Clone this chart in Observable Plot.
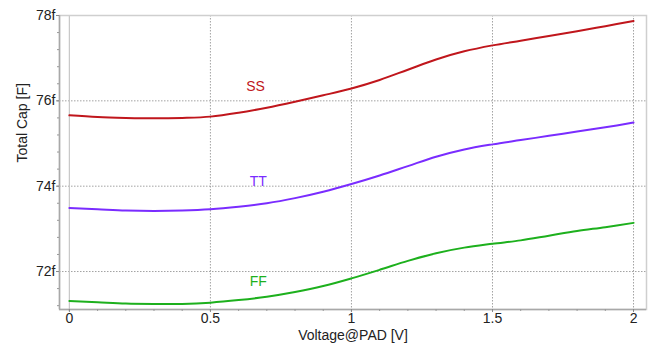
<!DOCTYPE html>
<html><head><meta charset="utf-8">
<script src="https://cdn.jsdelivr.net/npm/d3@7"></script>
<script src="https://cdn.jsdelivr.net/npm/@observablehq/plot@0.6"></script>
<style>body{margin:0;background:#fff;}</style>
</head><body><div id="chart"></div>
<script>
const voltage = [0,0.1,0.2,0.3,0.4,0.5,0.6,0.7,0.8,0.9,1.0,1.1,1.2,1.3,1.4,1.5,1.6,1.7,1.8,1.9,2.0];
const ss = [75.66,75.62,75.60,75.59,75.60,75.63,75.72,75.84,75.98,76.13,76.29,76.49,76.73,76.97,77.16,77.30,77.41,77.52,77.63,77.75,77.87];
const tt = [73.49,73.46,73.43,73.42,73.43,73.46,73.52,73.60,73.72,73.87,74.05,74.25,74.47,74.69,74.86,74.98,75.08,75.18,75.28,75.38,75.49];
const ff = [71.31,71.28,71.25,71.24,71.24,71.27,71.33,71.41,71.52,71.66,71.84,72.04,72.25,72.43,72.56,72.65,72.73,72.84,72.95,73.04,73.14];
const seriesNames = ["SS","TT","FF"];
const seriesColors = ["#c0161c","#7a2cff","#1db01d"];
const labelX = [0.66,0.67,0.67];
const labelY = [76.33,74.11,71.76];
const xTicks = [0,0.5,1,1.5,2];
const yTicks = [72,74,76,78];
const xMinor = d3.range(0,21).map(i=>i/10);
const yMinor = d3.range(0,18).map(i=>71.2+i*0.4);
const xTitle = "Voltage@PAD [V]";
const yTitle = "Total Cap [F]";
const xDomain = [-0.035,2.046];
const yDomain = [71.11,78];

const values = [ss,tt,ff];
const rows = [];
seriesNames.forEach((s,i)=>voltage.forEach((v,j)=>rows.push({v, c: values[i][j], s})));
const labels = seriesNames.map((s,i)=>({s, x: labelX[i], y: labelY[i]}));

const chart = Plot.plot({
  width: 652, height: 345,
  marginLeft: 59, marginRight: 6, marginTop: 15, marginBottom: 36,
  style: {fontFamily: "'Liberation Sans', Arial, sans-serif", fontSize: "14px", color: "#222", background: "#fff"},
  x: {domain: xDomain},
  y: {domain: yDomain},
  color: {domain: seriesNames, range: seriesColors},
  marks: [
    Plot.gridX(xTicks.filter(d=>d>0), {stroke:"#999", strokeOpacity:0.9, strokeDasharray:"1.5,1.5"}),
    Plot.gridY(yTicks.filter(d=>d<78), {stroke:"#999", strokeOpacity:0.9, strokeDasharray:"1.5,1.5"}),
    Plot.ruleX([0], {stroke:"#c8c8c8", strokeWidth:1.2}),
    Plot.frame({stroke:"#cfcfcf", strokeWidth:1.5}),
    Plot.ruleX([xDomain[0]], {stroke:"#a8a8a8", strokeWidth:1.5}),
    Plot.ruleY([yDomain[0]], {stroke:"#a8a8a8", strokeWidth:1.5}),
    Plot.axisY(yMinor, {tickSize:2, tickFormat: () => "", label: null, stroke:"#999"}),
    Plot.axisX(xMinor, {tickSize:2, tickFormat: () => "", label: null, stroke:"#999"}),
    Plot.axisY(yTicks, {tickSize:3, tickPadding:1, tickFormat: d => d + "f", label: null, stroke:"#888", fontSize: 14}),
    Plot.axisX(xTicks, {tickSize:3, tickPadding:1, tickFormat: d => String(d), label: null, stroke:"#888", fontSize: 14}),
    Plot.line(rows, {x:"v", y:"c", stroke:"s", z:"s", strokeWidth:2, curve:"catmull-rom"}),
    Plot.text(labels, {x:"x", y:"y", text:"s", fill:"s", fontSize:14}),
    Plot.text([yTitle], {frameAnchor:"left", dx:-37, rotate:-90, fontSize:14, fill:"#222"}),
    Plot.text([xTitle], {frameAnchor:"bottom", dy:30, fontSize:14, fill:"#222"})
  ]
});
document.getElementById("chart").appendChild(chart);
</script>
</body></html>
